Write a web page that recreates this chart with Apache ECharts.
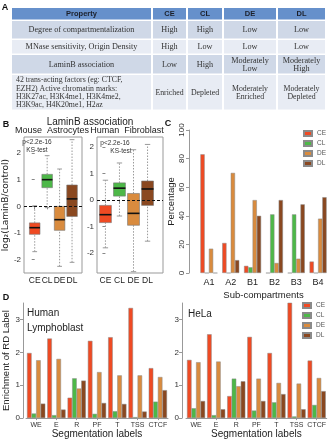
<!DOCTYPE html>
<html>
<head>
<meta charset="utf-8">
<script src="https://cdn.jsdelivr.net/npm/echarts@6/dist/echarts.min.js"></script>
<style>
html,body{margin:0;padding:0;background:#fff;}
#chart{width:329px;height:440px;}
</style>
</head>
<body>
<div id="chart"></div>
<script>
// ---- data ----
var groups = ['CE', 'CL', 'DE', 'DL'];
var colors = ['#EF4A23', '#4DB848', '#D98B3E', '#8A4820'];

// panel A table
var tableHeader = ['Property', 'CE', 'CL', 'DE', 'DL'];
var tableRows = [
	['Degree of compartmentalization', 'High', 'High', 'Low', 'Low'],
	['MNase sensitivity, Origin Density', 'High', 'Low', 'Low', 'Low'],
	['LaminB association', 'Low', 'High', 'Moderately\nLow', 'Moderately\nHigh'],
	['42 trans-acting factors (eg: CTCF,\nEZH2) Active chromatin marks:\nH3K27ac, H3K4me1, H3K4me2,\nH3K9ac, H4K20me1, H2az', 'Enriched', 'Depleted', 'Moderately\nEnriched', 'Moderately\nDepleted']
];

// panel B boxplots: [low, q1, median, q3, high]
var mouseBox = [
	[-1.7, -1.05, -0.8, -0.62, 0.02],
	[-0.05, 0.7, 1.0, 1.2, 1.9],
	[-2.25, -0.9, -0.5, 0.0, 1.4],
	[-2.1, -0.38, 0.28, 0.8, 2.5]
];
var humanBox = [
	[-1.8, -0.85, -0.55, -0.2, 0.75],
	[-0.6, 0.15, 0.45, 0.65, 1.4],
	[-2.7, -0.95, -0.5, 0.25, 1.9],
	[-1.55, -0.2, 0.42, 0.72, 2.1]
];
var boxTicks = [-2, -1, 0, 1, 2];

// panel C sub-compartments (%)
var subComp = ['A1', 'A2', 'B1', 'B2', 'B3', 'B4'];
var subCE = [83, 21, 5, 0, 0, 8];
var subCL = [0, 0, 4, 41, 41, 0];
var subDE = [17, 70, 51, 7, 10, 38];
var subDL = [0, 9, 40, 51, 48, 53];

// panel D segmentation enrichment
var segLabels = ['WE', 'E', 'R', 'PF', 'T', 'TSS', 'CTCF'];
var lymphCE = [1.98, 2.42, 0.62, 2.35, 2.46, 3.35, 1.52];
var lymphCL = [0.14, 0.09, 1.21, 0.13, 0.21, 0.03, 0.5];
var lymphDE = [1.76, 1.8, 0.9, 1.4, 1.3, 1.3, 1.25];
var lymphDL = [0.44, 0.26, 1.14, 0.46, 0.43, 0.2, 0.85];
var helaCE = [1.77, 2.55, 0.67, 2.47, 1.98, 3.52, 1.75];
var helaCL = [0.3, 0.09, 1.2, 0.23, 0.48, 0.05, 0.4];
var helaDE = [1.7, 1.72, 0.97, 1.2, 1.07, 1.05, 1.22];
var helaDL = [0.52, 0.27, 1.12, 0.52, 0.73, 0.27, 0.82];
var enrichTicks = [0, 1, 2, 3];

// ---- layout ----
var sans = 'Liberation Sans, Arial, sans-serif';
var serif = 'Liberation Serif, Times New Roman, serif';
var colX = [12, 153, 188, 224, 278, 327];
var rowY = [8, 21, 40, 55, 75, 111];
var tableBg = ['#6690CB', '#CFD8E7', '#E8ECF4', '#CFD8E7', '#E8ECF4'];

var charts = echarts.init(document.getElementById('chart'));

//表格
function buildTable(){
	var els = [];
	var rows = [tableHeader].concat(tableRows);
	for (var r = 0; r < rows.length; r++) {
		for (var c = 0; c < rows[r].length; c++) {
			var x0 = colX[c], x1 = colX[c + 1] - 2;
			var y0 = rowY[r], y1 = rowY[r + 1] - 1.5;
			els.push({type: 'rect', shape: {x: x0, y: y0, width: x1 - x0, height: y1 - y0}, style: {fill: tableBg[r]}, silent: true});
			var leftText = (r == 4 && c == 0);
			els.push({
				type: 'text',
				x: leftText ? x0 + 4 : (x0 + x1) / 2,
				y: (y0 + y1) / 2 + 0.5,
				style: {
					text: rows[r][c],
					font: r == 0 ? 'bold 7.5px ' + sans : (r == 4 ? '7.8px ' : '8.2px ') + serif,
					fill: r == 0 ? '#1b1f2a' : '#333',
					align: leftText ? 'left' : 'center',
					verticalAlign: 'middle',
					lineHeight: r == 4 ? 8.3 : 7.6
				},
				silent: true
			});
		}
	}
	return els;
}

function txt(x, y, s, font, fill, align){
	return {type: 'text', x: x, y: y, silent: true,
		style: {text: s, font: font, fill: fill || '#222', align: align || 'center', verticalAlign: 'middle'}};
}

//箱线图
function boxRender(params, api){
	var i = api.value(0);
	var low = api.coord([i, api.value(1)]);
	var q1 = api.coord([i, api.value(2)]);
	var med = api.coord([i, api.value(3)]);
	var q3 = api.coord([i, api.value(4)]);
	var high = api.coord([i, api.value(5)]);
	var w = api.size([0.85, 0])[0];
	var x = low[0];
	var cap = w * 0.45;
	var wk = {stroke: '#9a9a9a', lineWidth: 1, lineDash: [1.5, 1.5]};
	var cp = {stroke: '#9a9a9a', lineWidth: 1};
	return {type: 'group', children: [
		{type: 'line', shape: {x1: x, y1: low[1], x2: x, y2: q1[1]}, style: wk},
		{type: 'line', shape: {x1: x, y1: q3[1], x2: x, y2: high[1]}, style: wk},
		{type: 'line', shape: {x1: x - cap / 2, y1: low[1], x2: x + cap / 2, y2: low[1]}, style: cp},
		{type: 'line', shape: {x1: x - cap / 2, y1: high[1], x2: x + cap / 2, y2: high[1]}, style: cp},
		{type: 'rect', shape: {x: x - w / 2, y: q3[1], width: w, height: q1[1] - q3[1]}, style: {fill: colors[i], stroke: '#777', lineWidth: 0.6}},
		{type: 'line', shape: {x1: x - w / 2, y1: med[1], x2: x + w / 2, y2: med[1]}, style: {stroke: '#111', lineWidth: 1.6}}
	]};
}

function boxData(arr){
	return arr.map(function(b, i){ return [i].concat(b); });
}

function boxXAxis(idx, min, max){
	return {
		type: 'value', gridIndex: idx, min: min, max: max,
		splitLine: {show: false}, axisLine: {show: false},
		axisTick: {show: true, length: 3, customValues: [0, 1, 2, 3], lineStyle: {color: '#888'}},
		axisLabel: {show: true, customValues: [0, 1, 2, 3], margin: 3, fontSize: 8.5, fontFamily: sans, color: '#222',
			hideOverlap: false, showMinLabel: true, showMaxLabel: true,
			formatter: function(v){ return groups[Math.round(v)]; }}
	};
}

function boxYAxis(idx, min, max, name){
	return {
		type: 'value', gridIndex: idx, min: min, max: max,
		splitLine: {show: false}, axisLine: {show: false},
		axisTick: {show: true, length: 3, customValues: boxTicks, lineStyle: {color: '#888'}},
		axisLabel: {customValues: boxTicks, margin: 3, fontSize: 8, fontFamily: sans, color: '#333'},
		name: name || '', nameLocation: 'middle', nameGap: 11,
		nameTextStyle: {fontSize: 9, fontFamily: 'DejaVu Sans, ' + sans, color: '#222'}
	};
}

function enrichY(idx, offset, name){
	return {
		type: 'value', gridIndex: idx, min: 0, max: 3.5, offset: offset,
		splitLine: {show: false},
		axisLine: {show: true, lineStyle: {color: '#999'}},
		axisTick: {show: true, length: 3, customValues: enrichTicks, lineStyle: {color: '#999'}},
		axisLabel: {customValues: enrichTicks, margin: 3, fontSize: 8, fontFamily: sans, color: '#333'},
		name: name || '', nameLocation: 'middle', nameGap: 12,
		nameTextStyle: {fontSize: 9.5, fontFamily: sans, color: '#222'}
	};
}

function enrichX(idx){
	return {
		type: 'category', gridIndex: idx, data: segLabels,
		axisLine: {show: true, lineStyle: {color: '#999'}},
		axisTick: {show: true, length: 2, alignWithLabel: true, lineStyle: {color: '#999'}},
		axisLabel: {margin: 3, fontSize: 7, fontFamily: sans, color: '#333', interval: 0},
		name: 'Segmentation labels', nameLocation: 'middle', nameGap: 9,
		nameTextStyle: {fontSize: 10, fontFamily: sans, color: '#222'}
	};
}

function barSeries(name, ci, xi, data, gap){
	return {
		name: name, type: 'bar', xAxisIndex: xi, yAxisIndex: xi, data: data,
		barGap: '0%', barCategoryGap: gap,
		itemStyle: {color: colors[ci], borderColor: '#8a8a8a', borderWidth: 0.5},
		emphasis: {disabled: true}
	};
}

var zeroLine = {silent: true, symbol: 'none', data: [{yAxis: 0}], label: {show: false},
	lineStyle: {type: [3, 2], color: '#111', width: 1}};

var legendStyle = {
	orient: 'vertical', data: groups, itemWidth: 8, itemHeight: 5, itemGap: 3,
	icon: 'rect', textStyle: {fontSize: 6.5, fontFamily: sans, color: '#555'}, selectedMode: false,
	padding: 0
};

var option = {
	animation: false,
	grid: [
		{left: 17, top: 137, width: 65, height: 136, show: true, borderColor: '#999', borderWidth: 1},
		{left: 97, top: 137, width: 66, height: 136, show: true, borderColor: '#999', borderWidth: 1},
		{left: 198, top: 130, width: 131, height: 143},
		{left: 25, top: 303, width: 143, height: 120},
		{left: 186, top: 303, width: 141, height: 120}
	],
	xAxis: [
		boxXAxis(0, -0.86, 3.8),
		boxXAxis(1, -0.6, 4.1),
		{
			type: 'category', gridIndex: 2, data: subComp,
			axisLine: {show: false}, axisTick: {show: false},
			axisLabel: {margin: 5, fontSize: 9, fontFamily: sans, color: '#222'},
			name: 'Sub-compartments', nameLocation: 'middle', nameGap: 17,
			nameTextStyle: {fontSize: 9.5, fontFamily: sans, color: '#222'}
		},
		enrichX(3),
		enrichX(4)
	],
	yAxis: [
		boxYAxis(0, -2.5, 2.6, 'log\u2082(LaminB/control)'),
		boxYAxis(1, -2.75, 2.38),
		{
			type: 'value', gridIndex: 2, min: 0, max: 100, interval: 20, offset: 9,
			splitLine: {show: false},
			axisLine: {show: true, lineStyle: {color: '#999'}},
			axisTick: {show: true, length: 3, lineStyle: {color: '#999'}},
			axisLabel: {rotate: 90, margin: 3, fontSize: 8, fontFamily: sans, color: '#333'},
			name: 'Percentage', nameLocation: 'middle', nameGap: 13,
			nameTextStyle: {fontSize: 9.5, fontFamily: sans, color: '#222'}
		},
		enrichY(3, 3, 'Enrichment of RD Label'),
		enrichY(4, 4)
	],
	legend: [
		Object.assign({left: 303, top: 130}, legendStyle),
		Object.assign({left: 302, top: 302}, legendStyle)
	],
	graphic: buildTable().concat([
		txt(5, 8, 'A', 'bold 9px ' + sans, '#111'),
		txt(6, 125, 'B', 'bold 9px ' + sans, '#111'),
		txt(168, 124, 'C', 'bold 9px ' + sans, '#111'),
		txt(6, 298, 'D', 'bold 9px ' + sans, '#111'),
		txt(90, 122, 'LaminB association', '10px ' + sans),
		txt(52, 131, 'Mouse  Astrocytes', '9px ' + sans),
		txt(127, 131, 'Human  Fibroblast', '9px ' + sans),
		txt(37, 142, 'p<2.2e-16', '6.5px ' + sans, '#333'),
		txt(37, 150, 'KS-test', '6.5px ' + sans, '#333'),
		txt(115, 143, 'p<2.2e-16', '6.5px ' + sans, '#333'),
		txt(121, 151, 'KS-test', '6.5px ' + sans, '#333'),
		txt(27, 313, 'Human', '10px ' + sans, '#222', 'left'),
		txt(27, 328, 'Lymphoblast', '10px ' + sans, '#222', 'left'),
		txt(188, 314, 'HeLa', '10px ' + sans, '#222', 'left')
	]),
	series: [
		{type: 'custom', name: 'mouse', xAxisIndex: 0, yAxisIndex: 0, renderItem: boxRender,
			encode: {x: 0, y: [1, 2, 3, 4, 5]}, data: boxData(mouseBox), markLine: zeroLine},
		{type: 'custom', name: 'human', xAxisIndex: 1, yAxisIndex: 1, renderItem: boxRender,
			encode: {x: 0, y: [1, 2, 3, 4, 5]}, data: boxData(humanBox), markLine: zeroLine},
		barSeries('CE', 0, 2, subCE, '22%'),
		barSeries('CL', 1, 2, subCL, '22%'),
		barSeries('DE', 2, 2, subDE, '22%'),
		barSeries('DL', 3, 2, subDL, '22%'),
		barSeries('CE', 0, 3, lymphCE, '10%'),
		barSeries('CL', 1, 3, lymphCL, '10%'),
		barSeries('DE', 2, 3, lymphDE, '10%'),
		barSeries('DL', 3, 3, lymphDL, '10%'),
		barSeries('CE', 0, 4, helaCE, '10%'),
		barSeries('CL', 1, 4, helaCL, '10%'),
		barSeries('DE', 2, 4, helaDE, '10%'),
		barSeries('DL', 3, 4, helaDL, '10%')
	]
};
charts.setOption(option);
</script>
</body>
</html>
